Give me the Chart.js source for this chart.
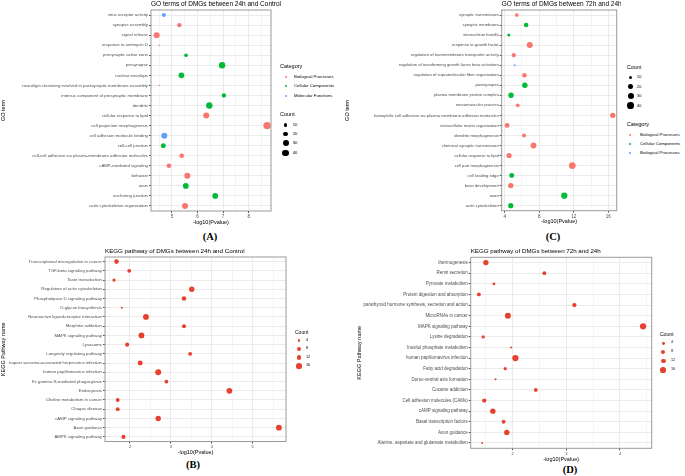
<!DOCTYPE html>
<html lang="en">
<head>
<meta charset="UTF-8">
<title>GO and KEGG enrichment of DMGs</title>
<script src="https://cdn.jsdelivr.net/npm/chart.js@4.4.0/dist/chart.umd.min.js"></script>
<style>
  body { margin: 0; background: #fff; font-family: "Liberation Sans", Arial, sans-serif; }
  #page { position: relative; width: 685px; height: 476px; overflow: hidden; }
  .panel { position: absolute; }
  .lg { position: absolute; white-space: nowrap; line-height: 1; transform: translateY(-50%); color: #000; }
  .dot { position: absolute; border-radius: 50%; }
  .tag { position: absolute; font-family: "Liberation Serif", "Times New Roman", serif; font-weight: bold;
         font-size: 10.5px; line-height: 1; transform: translate(-50%, -50%); }
</style>
</head>
<body>
<div id="page">
  <div class="tag" style="left:210px;top:237px">(A)</div>
  <div class="tag" style="left:553px;top:237px">(C)</div>
  <div class="tag" style="left:193px;top:465px">(B)</div>
  <div class="tag" style="left:570px;top:470px">(D)</div>
</div>
<script>
// ---- (A) GO terms of DMGs between 24h and Control ----
const goATerms = [
  'virus receptor activity', 'synapse assembly', 'signal release', 'response to antimycin D',
  'presynaptic active zone', 'presynapse', 'nuclear envelope',
  'neuroligin clustering involved in postsynaptic membrane assembly',
  'intrinsic component of presynaptic membrane', 'dendrite', 'cellular response to lipid',
  'cell projection morphogenesis', 'cell adhesion molecule binding', 'cell-cell junction',
  'cell-cell adhesion via plasma-membrane adhesion molecules', 'cAMP-mediated signaling',
  'behavior', 'axon', 'anchoring junction', 'actin cytoskeleton organization'
];
const goACategory = ['MF', 'BP', 'BP', 'BP', 'CC', 'CC', 'CC', 'BP', 'CC', 'CC',
                     'BP', 'BP', 'MF', 'CC', 'BP', 'BP', 'BP', 'CC', 'CC', 'BP'];
const goAPvalue = [4.68, 5.29, 4.40, 4.50, 5.55, 6.96, 5.37, 4.50, 7.03, 6.46,
                   6.34, 8.72, 4.70, 4.66, 5.38, 4.88, 5.60, 5.54, 6.69, 5.51];
const goACount = [14, 17, 32, 2, 12, 36, 29, 2, 17, 36,
                  32, 48, 32, 22, 19, 19, 32, 29, 29, 32];

// ---- (C) GO terms of DMGs between 72h and 24h ----
const goCTerms = [
  'synaptic transmission', 'synaptic membrane', 'stereocilium bundle', 'response to growth factor',
  'regulation of transmembrane transporter activity',
  'regulation of transforming growth factor beta activation',
  'regulation of supramolecular fiber organization', 'postsynapse', 'plasma membrane protein complex',
  'neuromuscular process', 'homophilic cell adhesion via plasma membrane adhesion molecules',
  'extracellular matrix organization', 'dendrite morphogenesis', 'chemical synaptic transmission',
  'cellular response to lipid', 'cell part morphogenesis', 'cell leading edge', 'brain development',
  'axon', 'actin cytoskeleton'
];
const goCCategory = ['BP', 'CC', 'CC', 'BP', 'BP', 'MF', 'BP', 'CC', 'CC', 'BP',
                     'BP', 'BP', 'BP', 'BP', 'BP', 'BP', 'CC', 'BP', 'CC', 'CC'];
const goCPvalue = [5.40, 6.48, 4.47, 6.90, 5.05, 5.16, 6.28, 6.33, 4.73, 5.51,
                   16.51, 4.27, 6.24, 7.33, 4.50, 11.83, 4.81, 4.70, 10.90, 4.70];
const goCCount = [12, 18, 8, 32, 15, 3, 18, 26, 26, 12,
                  25, 20, 14, 30, 24, 40, 22, 26, 35, 24];

// ---- (B) KEGG pathway of DMGs between 24h and Control ----
const keggBTerms = [
  'Transcriptional misregulation in cancer', 'TGF-beta signaling pathway', 'Taste transduction',
  'Regulation of actin cytoskeleton', 'Phospholipase D signaling pathway', 'O-glycan biosynthesis',
  'Neuroactive ligand-receptor interaction', 'Morphine addiction', 'MAPK signaling pathway',
  'Lysosome', 'Longevity regulating pathway', 'kaposi sarcoma-associated herpesvirus infection',
  'human papillomavirus infection', 'Fc gamma R-mediated phagocytosis', 'Endocytosis',
  'Choline metabolism in cancer', 'Chagas disease', 'cAMP signaling pathway', 'Axon guidance',
  'AMPK signaling pathway'
];
const keggBPvalue = [1.67, 1.98, 1.61, 3.51, 3.32, 1.80, 2.39, 3.32, 2.28, 1.93,
                     3.47, 2.25, 2.69, 2.89, 4.43, 1.70, 1.70, 2.69, 5.64, 1.84];
const keggBCount = [10, 7, 5, 14, 10, 2, 16, 8, 16, 8,
                    7, 12, 17, 7, 16, 7, 7, 14, 16, 8];

// ---- (D) KEGG pathway of DMGs between 72h and 24h ----
const keggDTerms = [
  'thermogenesis', 'Renin secretion', 'Pyruvate metabolism', 'Protein digestion and absorption',
  'parathyroid hormone synthesis, secretion and action', 'MicroRNAs in cancer',
  'MAPK signaling pathway', 'Lysine degradation', 'Inositol phosphate metabolism',
  'human papillomavirus infection', 'Fatty acid degradation', 'Dorso-ventral axis formation',
  'Cocaine addiction', 'Cell adhesion molecules (CAMs)', 'cAMP signaling pathway',
  'Basal transcription factors', 'Axon guidance', 'Alanine, aspartate and glutamate metabolism'
];
const keggDPvalue = [1.50, 2.59, 1.65, 1.37, 3.15, 1.91, 4.43, 1.45, 1.97,
                     2.05, 1.86, 1.68, 2.43, 1.47, 1.63, 1.83, 1.89, 1.43];
const keggDCount = [14, 7, 4, 7, 9, 17, 19, 5, 2,
                    19, 5, 2, 7, 9, 14, 7, 14, 2];

// legend breaks
const goCountBreaks = [10, 20, 30, 40];
const keggCountBreaks = [4, 8, 12, 16];

const CAT_COLORS = { BP: '#F8766D', CC: '#00BA38', MF: '#619CFF' };
const KEGG_COLOR = '#E5412E';
const goRadius = c => 0.53 * Math.sqrt(c);
const keggRadius = c => 0.72 * Math.sqrt(c);

Chart.defaults.font.family = '"Liberation Sans", Arial, sans-serif';

const page = document.getElementById('page');

// draws the panel border and the left-aligned title
const panelFrame = {
  id: 'panelFrame',
  afterDraw(chart, args, opts) {
    const { ctx, chartArea: a } = chart;
    ctx.save();
    ctx.strokeStyle = '#9a9a9a';
    ctx.lineWidth = 1;
    ctx.strokeRect(a.left, a.top, a.right - a.left, a.bottom - a.top);
    ctx.fillStyle = '#000';
    ctx.font = `${opts.size}px "Liberation Sans", Arial, sans-serif`;
    ctx.textAlign = 'left';
    ctx.textBaseline = 'middle';
    ctx.fillText(opts.text, a.left, a.top - 6);
    ctx.restore();
  }
};

function makePanel(p) {
  const holder = document.createElement('div');
  holder.className = 'panel';
  Object.assign(holder.style, {
    left: p.box[0] + 'px', top: p.box[1] + 'px',
    width: p.box[2] + 'px', height: p.box[3] + 'px'
  });
  const canvas = document.createElement('canvas');
  holder.appendChild(canvas);
  page.appendChild(holder);

  const points = p.terms.map((t, i) => ({ x: p.pvals[i], y: t, r: p.radius(p.counts[i]) }));
  const datasets = p.groups.map(g => ({
    label: g.key,
    data: points.filter((d, i) => !p.cats || p.cats[i] === g.key),
    backgroundColor: g.color,
    borderWidth: 0
  }));

  const isMajor = v => p.xMajor.includes(v);

  new Chart(canvas, {
    type: 'bubble',
    data: { datasets },
    options: {
      responsive: true,
      maintainAspectRatio: false,
      animation: false,
      events: [],
      layout: { padding: { top: p.padTop, right: p.padRight, left: 0, bottom: 0 } },
      plugins: {
        legend: { display: false },
        tooltip: { enabled: false },
        panelFrame: { text: p.title, size: p.titleSize }
      },
      scales: {
        x: {
          type: 'linear',
          min: p.xMin,
          max: p.xMax,
          afterBuildTicks: s => {
            s.ticks = [...p.xMajor, ...p.xMinor].sort((a, b) => a - b).map(v => ({ value: v }));
          },
          afterFit: s => { s.height = p.xAxisHeight; },
          ticks: {
            autoSkip: false, maxRotation: 0, padding: 1,
            color: '#4d4d4d', font: { size: p.xTickSize },
            callback: v => isMajor(v) ? String(v) : ''
          },
          grid: {
            color: '#ebebeb',
            lineWidth: c => isMajor(c.tick.value) ? 1 : 0.5,
            tickLength: 2,
            tickColor: c => isMajor(c.tick.value) ? '#555' : 'rgba(0,0,0,0)'
          },
          border: { display: false },
          title: {
            display: true, text: '-log10(Pvalue)', color: '#000',
            font: { size: 5.5 }, padding: { top: 0, bottom: p.xTitlePad }
          }
        },
        y: {
          type: 'category',
          labels: p.terms,
          offset: true,
          afterFit: s => { s.width = p.yAxisWidth; },
          ticks: { autoSkip: false, padding: 1, color: '#4d4d4d', font: { size: p.yTickSize } },
          grid: { color: '#ebebeb', lineWidth: 1, tickLength: 2, tickColor: '#555' },
          border: { display: false },
          title: {
            display: true, text: p.yTitle, color: '#000',
            font: { size: 5.5 }, padding: { top: 0, bottom: 0 }
          }
        }
      }
    },
    plugins: [panelFrame]
  });
}

function legendText(x, y, text, size) {
  const el = document.createElement('div');
  el.className = 'lg';
  el.textContent = text;
  Object.assign(el.style, { left: x + 'px', top: y + 'px', fontSize: size + 'px' });
  page.appendChild(el);
}
function legendDot(x, y, r, color) {
  const el = document.createElement('div');
  el.className = 'dot';
  Object.assign(el.style, {
    left: (x - r) + 'px', top: (y - r) + 'px',
    width: 2 * r + 'px', height: 2 * r + 'px', background: color
  });
  page.appendChild(el);
}
function categoryLegend(x, y, rows, dotX, textX, labels) {
  legendText(x, y, 'Category', 5.5);
  labels.forEach((l, i) => {
    legendDot(dotX, rows[i], 1, l.color);
    legendText(textX, rows[i], l.text, 4.3);
  });
}
function countLegend(x, y, rows, dotX, textX, breaks, radius, color, titleSize, textSize) {
  legendText(x, y, 'Count', titleSize);
  breaks.forEach((b, i) => {
    legendDot(dotX, rows[i], radius(b), color);
    legendText(textX, rows[i], String(b), textSize);
  });
}

const goGroups = [
  { key: 'BP', color: CAT_COLORS.BP },
  { key: 'CC', color: CAT_COLORS.CC },
  { key: 'MF', color: CAT_COLORS.MF }
];

makePanel({
  box: [0, 0, 300, 230], padTop: 10, padRight: 29, yAxisWidth: 151, xAxisHeight: 19, xTitlePad: 4.7,
  title: 'GO terms of DMGs between 24h and Control', titleSize: 6.5, yTitle: 'GO term',
  terms: goATerms, cats: goACategory, pvals: goAPvalue, counts: goACount, radius: goRadius,
  groups: goGroups, xMin: 4.179, xMax: 8.873, xMajor: [5, 6, 7, 8], xMinor: [4.5, 5.5, 6.5, 7.5, 8.5],
  xTickSize: 4.5, yTickSize: 4.3
});
makePanel({
  box: [344, 0, 277, 230], padTop: 10, padRight: 4.3, yAxisWidth: 157.7, xAxisHeight: 19.3, xTitlePad: 5,
  title: 'GO terms of DMGs between 72h and 24h', titleSize: 6.5, yTitle: 'GO term',
  terms: goCTerms, cats: goCCategory, pvals: goCPvalue, counts: goCCount, radius: goRadius,
  groups: goGroups, xMin: 3.65, xMax: 16.97, xMajor: [4, 8, 12, 16], xMinor: [6, 10, 14],
  xTickSize: 4.5, yTickSize: 4.15
});
makePanel({
  box: [0, 240, 290, 220], padTop: 17, padRight: 4, yAxisWidth: 105, xAxisHeight: 18.5, xTitlePad: 4.7,
  title: 'KEGG pathway of DMGs between 24h and Control', titleSize: 6.2, yTitle: 'KEGG Pathway name',
  terms: keggBTerms, cats: null, pvals: keggBPvalue, counts: keggBCount, radius: keggRadius,
  groups: [{ key: 'KEGG', color: KEGG_COLOR }], xMin: 1.389, xMax: 5.814,
  xMajor: [2, 3, 4, 5], xMinor: [1.5, 2.5, 3.5, 4.5, 5.5], xTickSize: 4, yTickSize: 4.3
});
makePanel({
  box: [356, 240, 300, 228], padTop: 17.3, padRight: 4.3, yAxisWidth: 114.7, xAxisHeight: 19.7, xTitlePad: 5.7,
  title: 'KEGG pathway of DMGs between 72h and 24h', titleSize: 6.2, yTitle: 'KEGG Pathway name',
  terms: keggDTerms, cats: null, pvals: keggDPvalue, counts: keggDCount, radius: keggRadius,
  groups: [{ key: 'KEGG', color: KEGG_COLOR }], xMin: 1.217, xMax: 4.591,
  xMajor: [2, 3, 4], xMinor: [1.5, 2.5, 3.5, 4.5], xTickSize: 4, yTickSize: 4.5
});

// legends
categoryLegend(280, 66.7, [77.3, 86.3, 95.7], 286, 294, [
  { text: 'Biological Processes', color: CAT_COLORS.BP },
  { text: 'Cellular Components', color: CAT_COLORS.CC },
  { text: 'Molecular Functions', color: CAT_COLORS.MF }
]);
countLegend(280, 115, [125, 134, 143.3, 153], 285.7, 292.7, goCountBreaks, goRadius, '#000', 5.5, 4.3);

countLegend(626.7, 67.7, [77.3, 86.7, 96, 105.7], 630.7, 636.7, goCountBreaks, goRadius, '#000', 5.5, 4.3);
categoryLegend(626.7, 125, [135, 144, 152.7], 630, 640, [
  { text: 'Biological Processes', color: CAT_COLORS.BP },
  { text: 'Cellular Components', color: CAT_COLORS.CC },
  { text: 'Biological Processes', color: CAT_COLORS.MF }
]);

countLegend(295, 331.7, [340.7, 349, 357.7, 366], 299, 306, keggCountBreaks, keggRadius, KEGG_COLOR, 5, 3.8);
countLegend(660, 334.3, [343.3, 352.3, 361, 370], 663.3, 671, keggCountBreaks, keggRadius, KEGG_COLOR, 5, 3.8);
</script>
</body>
</html>
